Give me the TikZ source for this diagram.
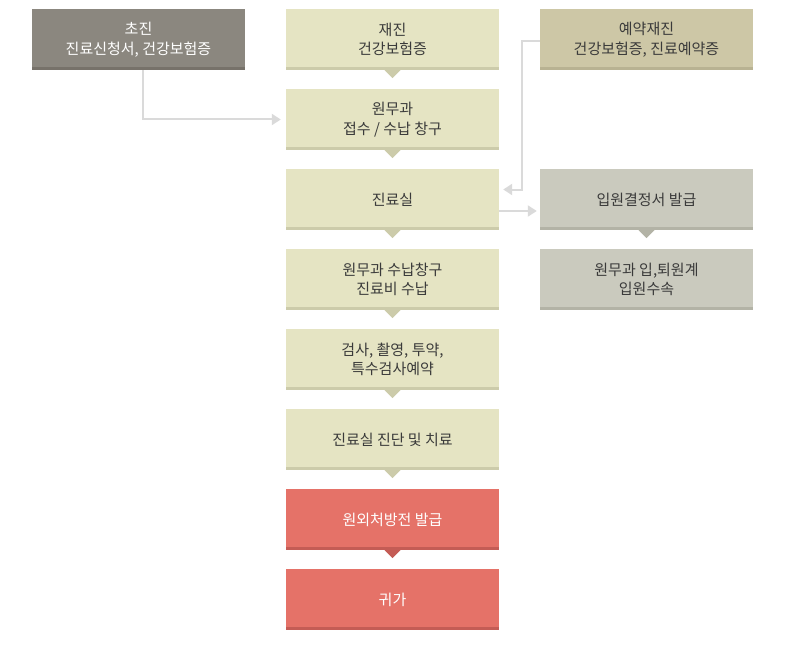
\documentclass[tikz,border=0pt]{standalone}
\usepackage{fontspec}
\setmainfont{Noto Sans CJK KR}
\usetikzlibrary{arrows.meta,positioning}
\definecolor{firstbg}{HTML}{8B877F}
\definecolor{firstbar}{HTML}{77726A}
\definecolor{stepbg}{HTML}{E5E4C3}
\definecolor{stepbar}{HTML}{CCCBAA}
\definecolor{resvbg}{HTML}{CDC7A6}
\definecolor{resvbar}{HTML}{B8B292}
\definecolor{wardbg}{HTML}{CACABE}
\definecolor{wardbar}{HTML}{B3B3A6}
\definecolor{exitbg}{HTML}{E57268}
\definecolor{exitbar}{HTML}{C45C55}
\definecolor{linkgray}{HTML}{DADADA}
\definecolor{labeltext}{HTML}{3A3A3A}

\begin{document}
\begin{tikzpicture}[
  x=1pt, y=-1pt,
  every node/.style={font=\fontsize{15}{19.5}\selectfont, align=center,
    inner sep=0pt, minimum width=213pt, minimum height=61pt},
  >={Triangle[length=9pt,width=11pt]},
  link/.style={draw=linkgray, line width=2pt, ->},
  stepbox/.style={fill=stepbg, text=labeltext},
  exitbox/.style={fill=exitbg, text=white}
]

\path[use as bounding box] (0,0) rectangle (800,650);

% Left and right columns.
\node[fill=firstbg, text=white] (chojin) at (138.5,39.5) {초진\\진료신청서, 건강보험증};
\node[fill=resvbg, text=labeltext] (yeyak) at (646.5,39.5) {예약재진\\건강보험증, 진료예약증};
\node[fill=wardbg, text=labeltext] (ipwon) at (646.5,199.5) {입원결정서 발급};
\node[fill=wardbg, text=labeltext] (ipwongye) at (646.5,279.5) {원무과 입,퇴원계\\입원수속};

% Centre column.
\foreach \i/\sty/\txt in {
  1/stepbox/{재진\\건강보험증},
  2/stepbox/{원무과\\접수 / 수납 창구},
  3/stepbox/{진료실},
  4/stepbox/{원무과 수납창구\\진료비 수납},
  5/stepbox/{검사, 촬영, 투약,\\특수검사예약},
  6/stepbox/{진료실 진단 및 치료},
  7/exitbox/{원외처방전 발급},
  8/exitbox/{귀가}} {
  \node[\sty] (s\i) at (392.5,{39.5+80*(\i-1)}) {\txt};
}

% Bottom bars.
\foreach \n/\c in {chojin/firstbar, yeyak/resvbar, ipwon/wardbar, ipwongye/wardbar,
                   s1/stepbar, s2/stepbar, s3/stepbar, s4/stepbar, s5/stepbar,
                   s6/stepbar, s7/exitbar, s8/exitbar} {
  \fill[\c] ([yshift=3pt]\n.south west) rectangle (\n.south east);
}

% Step pointers.
\foreach \n/\c in {s1/stepbar, s2/stepbar, s3/stepbar, s4/stepbar, s5/stepbar,
                   s6/stepbar, s7/exitbar, ipwon/wardbar} {
  \fill[\c] (\n.south) ++(-8,0) -- ++(16,0) -- ++(-8,8) -- cycle;
}

% Connectors.
\draw[link] ([xshift=4.5pt]chojin.south) |- ([xshift=-5pt]s2.west);
\draw[link] ([yshift=-1.5pt]yeyak.west) -- ++(-18,0) |- ([xshift=4pt,yshift=10pt]s3.east);
\draw[link] ([yshift=-11.5pt]s3.east) -- ([xshift=-3pt,yshift=-11.5pt]ipwon.west);

\end{tikzpicture}
\end{document}
